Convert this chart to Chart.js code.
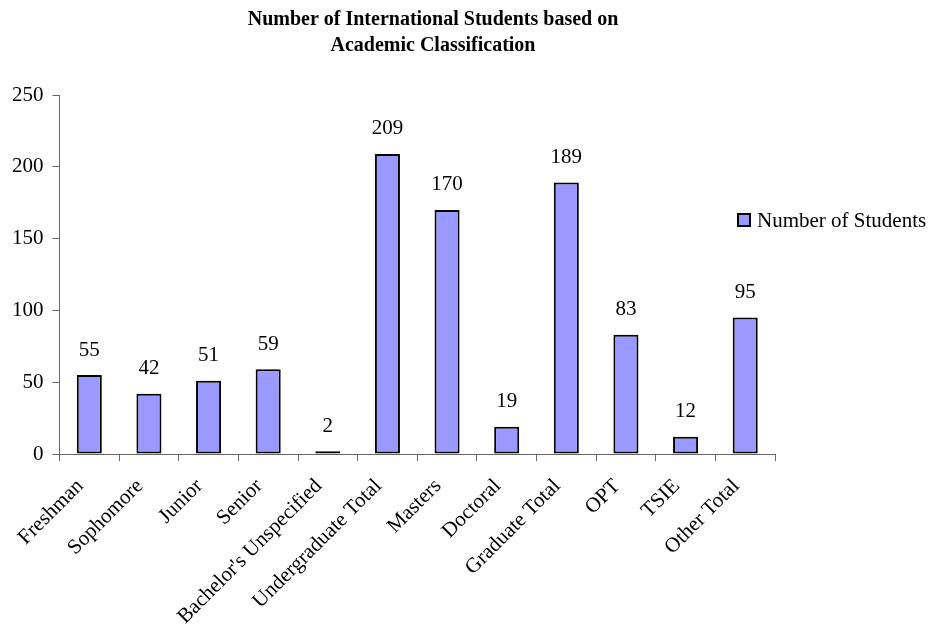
<!DOCTYPE html>
<html>
<head>
<meta charset="utf-8">
<script src="https://cdn.jsdelivr.net/npm/chart.js@4"></script>
<style>
  html, body { margin: 0; padding: 0; background: #fff; }
  #wrap { width: 933px; height: 630px; position: relative; }
</style>
</head>
<body>
<div id="wrap"><canvas id="chart"></canvas></div>
<script>
// Values
const categories = ['Freshman', 'Sophomore', 'Junior', 'Senior', "Bachelor's Unspecified",
    'Undergraduate Total', 'Masters', 'Doctoral', 'Graduate Total', 'OPT', 'TSIE', 'Other Total'];
const studentCounts = [55, 42, 51, 59, 2, 209, 170, 19, 189, 83, 12, 95];
const seriesName = 'Number of Students';
const titleLines = ['Number of International Students based on', 'Academic Classification'];
const yTicks = [0, 50, 100, 150, 200, 250];

const barFill = '#9999FF';
const axisColor = '#666666';
const fontFamily = '"Liberation Serif", "Times New Roman", serif';

// value labels above each bar
const valueLabels = {
    id: 'valueLabels',
    afterDatasetsDraw(chart) {
        const ctx = chart.ctx;
        const meta = chart.getDatasetMeta(0);
        ctx.save();
        ctx.font = '21px ' + fontFamily;
        ctx.fillStyle = '#000';
        ctx.textAlign = 'center';
        ctx.textBaseline = 'middle';
        meta.data.forEach((bar, i) => {
            ctx.fillText(String(chart.data.datasets[0].data[i]), bar.x, bar.y - 25);
        });
        ctx.restore();
    }
};

// Excel-like legend sitting over the right edge of the plot
const sideLegend = {
    id: 'sideLegend',
    afterLayout(chart) {
        // centre the title over the whole picture like the original
        const t = chart.titleBlock;
        if (t) { t.left = 0; t.right = 866; t.width = 866; }
    },
    afterDraw(chart) {
        const ctx = chart.ctx;
        const ds = chart.data.datasets[0];
        ctx.save();
        ctx.fillStyle = ds.backgroundColor;
        ctx.fillRect(738, 214, 12, 12);
        ctx.lineWidth = 2;
        ctx.strokeStyle = '#000';
        ctx.strokeRect(738, 214, 12, 12);
        ctx.font = '21px ' + fontFamily;
        ctx.fillStyle = '#000';
        ctx.textAlign = 'left';
        ctx.textBaseline = 'middle';
        ctx.fillText(ds.label, 757, 221);
        ctx.restore();
    }
};

new Chart(document.getElementById('chart'), {
    type: 'bar',
    data: {
        labels: categories,
        datasets: [{
            label: seriesName,
            data: studentCounts,
            backgroundColor: barFill,
            borderColor: '#000',
            borderWidth: 2,
            borderSkipped: false,
            categoryPercentage: 1,
            barPercentage: 0.42
        }]
    },
    options: {
        responsive: true,
        maintainAspectRatio: false,
        animation: false,
        layout: { padding: { left: 3, right: 158, top: 0, bottom: 0 } },
        plugins: {
            legend: { display: false },
            tooltip: { enabled: false },
            title: {
                display: true,
                text: titleLines,
                color: '#000',
                font: { family: fontFamily, size: 20, weight: 'bold', lineHeight: 1.3 },
                padding: { top: 7, bottom: 36 }
            }
        },
        scales: {
            x: {
                afterFit(scale) { scale.height = 176; },
                grid: { drawOnChartArea: false, drawTicks: true, tickLength: 7, color: axisColor, offset: true },
                border: { color: axisColor, width: 1 },
                ticks: {
                    color: '#000',
                    font: { family: fontFamily, size: 21 },
                    minRotation: 45,
                    maxRotation: 45,
                    autoSkip: false,
                    labelOffset: -9,
                    padding: 13
                }
            },
            y: {
                min: 0,
                max: 250,
                afterBuildTicks(axis) { axis.ticks = yTicks.map(v => ({ value: v })); },
                grid: { drawOnChartArea: false, drawTicks: true, tickLength: 7, color: axisColor },
                border: { color: axisColor, width: 1 },
                ticks: {
                    color: '#000',
                    font: { family: fontFamily, size: 21 },
                    padding: 9
                }
            }
        }
    },
    plugins: [valueLabels, sideLegend]
});
</script>
</body>
</html>
